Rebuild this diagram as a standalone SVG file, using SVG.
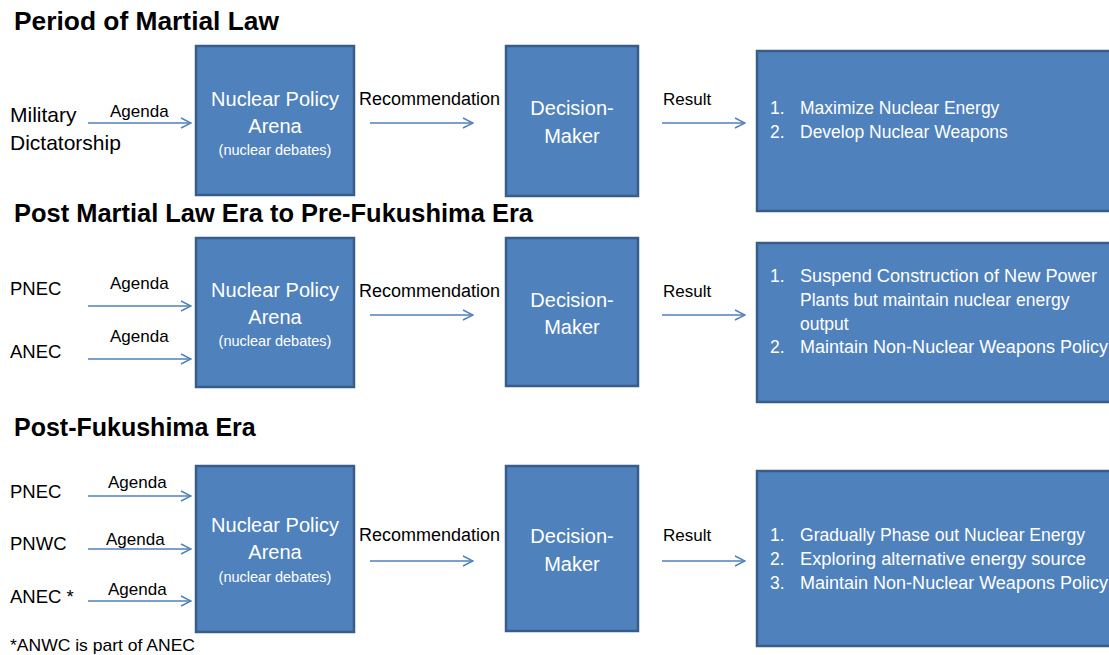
<svg xmlns="http://www.w3.org/2000/svg" width="1109" height="655" viewBox="0 0 1109 655">
<defs>
<marker id="arr" viewBox="0 0 12 12" refX="11" refY="6" markerWidth="12" markerHeight="12" markerUnits="userSpaceOnUse" orient="auto">
<path d="M1,1 L11,6 L1,11" fill="none" stroke="#4F81BD" stroke-width="1.4"/>
</marker>
</defs>
<style>
text{font-family:"Liberation Sans",Arial,sans-serif;}
.title{font-weight:bold;font-size:25px;fill:#000;}
.box{fill:#4F81BD;stroke:#385D8A;stroke-width:2.5;}
.bt{fill:#fff;font-size:20px;text-anchor:middle;}
.bs{fill:#fff;font-size:14.5px;text-anchor:middle;}
.rt{fill:#fff;font-size:17.5px;}
.lbl{fill:#000;font-size:17px;}
.rec{fill:#000;font-size:18px;}
.src{fill:#000;font-size:18.5px;}
.big{fill:#000;font-size:21px;}
.conn line{stroke:#4F81BD;stroke-width:1.5;marker-end:url(#arr);}
</style>
<rect width="1109" height="655" fill="#fff"/>
<text class="title" x="14" y="30" textLength="265" lengthAdjust="spacingAndGlyphs">Period of Martial Law</text>
<text class="title" x="14" y="222" textLength="519" lengthAdjust="spacingAndGlyphs">Post Martial Law Era to Pre-Fukushima Era</text>
<text class="title" x="14" y="436">Post-Fukushima Era</text>

<g id="connectors" class="conn">
<line x1="88" y1="123" x2="191" y2="123"/>
<line x1="370" y1="123" x2="473" y2="123"/>
<line x1="662" y1="123" x2="745" y2="123"/>
<line x1="88" y1="306" x2="191" y2="306"/>
<line x1="88" y1="359" x2="191" y2="359"/>
<line x1="370" y1="315" x2="473" y2="315"/>
<line x1="662" y1="315" x2="745" y2="315"/>
<line x1="88" y1="496" x2="191" y2="496"/>
<line x1="88" y1="549" x2="191" y2="549"/>
<line x1="88" y1="601" x2="191" y2="601"/>
<line x1="370" y1="561" x2="473" y2="561"/>
<line x1="662" y1="561" x2="745" y2="561"/>
</g>

<g id="labels">
<text class="big" x="10" y="122">Military</text>
<text class="big" x="10" y="150">Dictatorship</text>
<text class="lbl" x="110" y="117">Agenda</text>
<text class="rec" x="359" y="105" textLength="141" lengthAdjust="spacingAndGlyphs">Recommendation</text>
<text class="lbl" x="663" y="105">Result</text>

<text class="src" x="10" y="295">PNEC</text>
<text class="src" x="10" y="358">ANEC</text>
<text class="lbl" x="110" y="289">Agenda</text>
<text class="lbl" x="110" y="342">Agenda</text>
<text class="rec" x="359" y="297" textLength="141" lengthAdjust="spacingAndGlyphs">Recommendation</text>
<text class="lbl" x="663" y="297">Result</text>

<text class="src" x="10" y="498">PNEC</text>
<text class="src" x="10" y="550">PNWC</text>
<text class="src" x="10" y="603">ANEC *</text>
<text class="lbl" x="108" y="488">Agenda</text>
<text class="lbl" x="106" y="545">Agenda</text>
<text class="lbl" x="108" y="595">Agenda</text>
<text class="rec" x="359" y="541" textLength="141" lengthAdjust="spacingAndGlyphs">Recommendation</text>
<text class="lbl" x="663" y="541">Result</text>
<text class="lbl" x="10" y="651" textLength="185" lengthAdjust="spacingAndGlyphs">*ANWC is part of ANEC</text>
</g>

<g id="arena1">
<rect class="box" x="196" y="46" width="158" height="149"/>
<text class="bt" x="275" y="106">Nuclear Policy</text>
<text class="bt" x="275" y="133">Arena</text>
<text class="bs" x="275" y="155">(nuclear debates)</text>
</g>
<g id="decision1">
<rect class="box" x="506" y="46" width="132" height="150"/>
<text class="bt" x="572" y="115">Decision-</text>
<text class="bt" x="572" y="143">Maker</text>
</g>
<g id="result1">
<rect class="box" x="757" y="51" width="365" height="160"/>
<text class="rt" x="770" y="114">1.</text>
<text class="rt" x="800" y="114">Maximize Nuclear Energy</text>
<text class="rt" x="770" y="138">2.</text>
<text class="rt" x="800" y="138">Develop Nuclear Weapons</text>
</g>

<g id="arena2">
<rect class="box" x="196" y="238" width="158" height="149"/>
<text class="bt" x="275" y="297">Nuclear Policy</text>
<text class="bt" x="275" y="324">Arena</text>
<text class="bs" x="275" y="346">(nuclear debates)</text>
</g>
<g id="decision2">
<rect class="box" x="506" y="238" width="132" height="148"/>
<text class="bt" x="572" y="307">Decision-</text>
<text class="bt" x="572" y="334">Maker</text>
</g>
<g id="result2">
<rect class="box" x="757" y="243" width="365" height="159"/>
<text class="rt" x="770" y="282">1.</text>
<text class="rt" x="800" y="282" textLength="297" lengthAdjust="spacingAndGlyphs">Suspend  Construction of New Power</text>
<text class="rt" x="800" y="306">Plants but maintain nuclear energy</text>
<text class="rt" x="800" y="330">output</text>
<text class="rt" x="770" y="353">2.</text>
<text class="rt" x="800" y="353" textLength="308" lengthAdjust="spacingAndGlyphs">Maintain Non-Nuclear Weapons Policy</text>
</g>

<g id="arena3">
<rect class="box" x="196" y="466" width="158" height="166"/>
<text class="bt" x="275" y="532">Nuclear Policy</text>
<text class="bt" x="275" y="559">Arena</text>
<text class="bs" x="275" y="582">(nuclear debates)</text>
</g>
<g id="decision3">
<rect class="box" x="506" y="466" width="132" height="165"/>
<text class="bt" x="572" y="543">Decision-</text>
<text class="bt" x="572" y="571">Maker</text>
</g>
<g id="result3">
<rect class="box" x="757" y="471" width="365" height="175"/>
<text class="rt" x="770" y="541">1.</text>
<text class="rt" x="800" y="541" textLength="285" lengthAdjust="spacingAndGlyphs">Gradually Phase out Nuclear Energy</text>
<text class="rt" x="770" y="565">2.</text>
<text class="rt" x="800" y="565" textLength="286" lengthAdjust="spacingAndGlyphs">Exploring  alternative energy source</text>
<text class="rt" x="770" y="589">3.</text>
<text class="rt" x="800" y="589" textLength="308" lengthAdjust="spacingAndGlyphs">Maintain Non-Nuclear Weapons Policy</text>
</g>
</svg>
